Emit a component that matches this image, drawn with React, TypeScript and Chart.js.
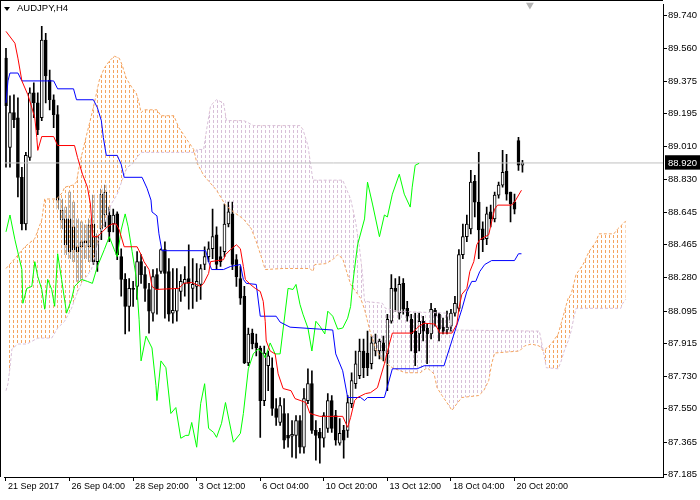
import React, { useEffect, useRef } from 'react';
import { Chart, registerables } from 'chart.js';

Chart.register(...registerables);

// ---- Candles (bar index 0 = 21 Sep 2017, H4) ----
const opens = [
  89.504, 89.006, 89.200, 89.172, 88.840, 88.580, 88.951, 89.311, 89.255, 89.172,
  89.604, 89.382, 89.272, 89.189, 88.603, 88.608, 88.608, 88.564, 88.453, 88.453,
  88.486, 88.453, 88.580, 88.370, 88.553, 88.630, 88.630, 88.580, 88.636, 88.398,
  88.271, 88.121, 88.221, 88.232, 88.370, 88.298, 88.215, 88.083, 88.298, 88.315,
  88.437, 88.315, 88.083, 88.094, 88.204, 88.249, 88.276, 88.221, 88.232, 88.243,
  88.354, 88.398, 88.442, 88.520, 88.398, 88.426, 88.580, 88.636, 88.381, 88.276,
  88.177, 87.806, 87.972, 87.917, 87.889, 87.596, 87.790, 87.779, 87.552, 87.474,
  87.524, 87.402, 87.397, 87.402, 87.485, 87.336, 87.596, 87.690, 87.430, 87.419,
  87.386, 87.441, 87.596, 87.513, 87.358, 87.430, 87.430, 87.579, 87.690, 87.734,
  87.872, 87.861, 87.801, 87.872, 87.872, 87.917, 87.856, 88.038, 88.221, 88.083,
  88.249, 88.110, 88.049, 87.983, 87.967, 88.038, 88.000, 87.967, 88.099, 88.077,
  88.005, 87.989, 88.011, 88.083, 88.110, 88.409, 88.509, 88.553, 88.818, 88.702,
  88.553, 88.498, 88.647, 88.608, 88.741, 88.796, 88.874, 88.757, 88.702, 89.045,
  88.907,
];
const highs = [
  89.559, 89.294, 89.300, 89.283, 88.896, 88.979, 89.338, 89.366, 89.311, 89.681,
  89.642, 89.438, 89.300, 89.239, 88.719, 88.674, 88.757, 88.702, 88.608, 88.592,
  88.575, 88.608, 88.741, 88.525, 88.774, 88.796, 88.674, 88.663, 88.647, 88.442,
  88.304, 88.276, 88.260, 88.426, 88.409, 88.343, 88.249, 88.326, 88.332, 88.442,
  88.481, 88.387, 88.332, 88.332, 88.298, 88.343, 88.464, 88.387, 88.359, 88.354,
  88.453, 88.481, 88.663, 88.564, 88.453, 88.691, 88.702, 88.702, 88.409, 88.343,
  88.232, 88.000, 87.994, 87.967, 87.900, 87.900, 87.872, 87.834, 87.607, 87.613,
  87.607, 87.524, 87.485, 87.513, 87.513, 87.663, 87.773, 87.762, 87.485, 87.441,
  87.529, 87.635, 87.624, 87.541, 87.496, 87.458, 87.624, 87.751, 87.872, 87.939,
  87.939, 87.983, 87.955, 87.967, 87.939, 87.955, 88.077, 88.298, 88.276, 88.287,
  88.276, 88.149, 88.077, 88.083, 88.083, 88.066, 88.022, 88.138, 88.110, 88.083,
  88.055, 88.094, 88.105, 88.177, 88.437, 88.580, 88.630, 88.879, 88.851, 88.979,
  88.592, 88.674, 88.685, 88.757, 88.813, 88.990, 88.968, 88.757, 88.746, 89.062,
  88.934,
];
const lows = [
  88.896, 88.896, 89.117, 88.730, 88.547, 88.547, 88.934, 89.172, 89.078, 89.156,
  89.255, 89.216, 89.117, 88.663, 88.553, 88.409, 88.387, 88.370, 88.260, 88.271,
  88.387, 88.370, 88.354, 88.315, 88.492, 88.564, 88.481, 88.536, 88.381, 88.177,
  87.967, 87.983, 88.121, 88.160, 88.249, 88.149, 87.972, 88.038, 88.077, 88.304,
  88.055, 88.038, 88.027, 88.038, 88.149, 88.177, 88.105, 88.110, 88.149, 88.160,
  88.326, 88.370, 88.387, 88.326, 88.343, 88.398, 88.564, 88.326, 88.232, 88.132,
  87.801, 87.790, 87.884, 87.845, 87.391, 87.568, 87.651, 87.513, 87.458, 87.458,
  87.330, 87.336, 87.281, 87.275, 87.303, 87.303, 87.579, 87.413, 87.264, 87.247,
  87.336, 87.419, 87.419, 87.347, 87.347, 87.275, 87.391, 87.557, 87.663, 87.718,
  87.723, 87.734, 87.773, 87.845, 87.828, 87.817, 87.651, 88.027, 88.094, 88.049,
  88.077, 88.038, 87.872, 87.790, 87.872, 87.928, 87.801, 87.939, 88.011, 87.928,
  87.967, 87.967, 87.983, 88.066, 88.094, 88.387, 88.481, 88.525, 88.619, 88.387,
  88.426, 88.464, 88.564, 88.592, 88.724, 88.785, 88.713, 88.592, 88.636, 88.879,
  88.868,
];
const closes = [
  89.239, 89.200, 89.161, 88.840, 88.580, 88.962, 89.311, 89.255, 89.106, 89.604,
  89.405, 89.272, 89.189, 88.713, 88.658, 88.464, 88.426, 88.437, 88.426, 88.481,
  88.475, 88.575, 88.370, 88.509, 88.746, 88.757, 88.536, 88.630, 88.409, 88.271,
  88.121, 88.221, 88.215, 88.370, 88.298, 88.221, 88.094, 88.287, 88.215, 88.437,
  88.304, 88.077, 88.099, 88.221, 88.260, 88.271, 88.249, 88.243, 88.260, 88.332,
  88.398, 88.442, 88.509, 88.354, 88.370, 88.580, 88.647, 88.354, 88.287, 88.166,
  87.806, 87.967, 87.911, 87.889, 87.596, 87.861, 87.845, 87.552, 87.502, 87.568,
  87.375, 87.386, 87.408, 87.485, 87.336, 87.607, 87.690, 87.430, 87.402, 87.386,
  87.513, 87.596, 87.441, 87.375, 87.413, 87.375, 87.585, 87.707, 87.801, 87.872,
  87.779, 87.779, 87.917, 87.917, 87.928, 87.872, 88.049, 88.221, 88.204, 88.243,
  88.105, 88.066, 87.967, 87.861, 88.038, 87.983, 87.967, 88.105, 88.066, 87.994,
  87.983, 88.005, 88.083, 88.138, 88.409, 88.509, 88.580, 88.813, 88.702, 88.547,
  88.492, 88.636, 88.608, 88.741, 88.796, 88.868, 88.746, 88.691, 88.663, 88.907,
  88.920,
];

// ---- Ichimoku lines, read as (bar index, price) breakpoints ----
const tenkanBar = [0, 2.25, 3, 4, 5.5, 6.5, 7.25, 7.75, 8, 9, 12, 13, 17.25, 18, 19.25, 20.5, 21.25, 21.5, 21.75, 23, 24.25, 25.5, 26.75, 27.75, 28.5, 29.75, 33, 34, 34.75, 36, 36.75, 37.75, 43.5, 44.75, 46.75, 49, 49.75, 51, 51.5, 54.75, 55.25, 56.5, 58, 59, 59.75, 60.25, 61.5, 62.75, 64, 64.75, 65.25, 65.5, 66.5, 67.75, 68.5, 69.75, 71.75, 72.75, 75.5, 76.5, 79, 84.75, 86, 86.75, 87.75, 88.5, 90.5, 91.75, 93.5, 95.25, 96.5, 97.25, 102.25, 104, 105.25, 108, 109.25, 112.25, 113.5, 114, 114.75, 116, 116.75, 117.75, 118.5, 119.25, 121.5, 122.25, 123, 123.75, 127.25, 128, 129.75];
const tenkanPrice = [89.653, 89.587, 89.504, 89.377, 89.300, 89.228, 89.172, 89.062, 88.990, 89.067, 89.067, 89.017, 89.017, 88.951, 88.857, 88.785, 88.691, 88.619, 88.509, 88.509, 88.536, 88.564, 88.580, 88.580, 88.547, 88.453, 88.453, 88.409, 88.370, 88.326, 88.232, 88.215, 88.221, 88.249, 88.254, 88.232, 88.249, 88.304, 88.370, 88.381, 88.409, 88.437, 88.464, 88.442, 88.343, 88.271, 88.243, 88.221, 88.204, 88.149, 88.038, 87.928, 87.872, 87.856, 87.745, 87.663, 87.651, 87.607, 87.585, 87.524, 87.508, 87.508, 87.447, 87.502, 87.596, 87.613, 87.635, 87.640, 87.668, 87.801, 87.911, 87.972, 87.972, 88.011, 88.027, 88.022, 87.972, 87.972, 88.022, 88.110, 88.188, 88.221, 88.315, 88.370, 88.464, 88.492, 88.520, 88.592, 88.663, 88.685, 88.685, 88.702, 88.768];

const kijunBar = [0, 0.5, 1, 3, 4, 12, 13, 17, 17.75, 22, 23, 24, 24.5, 25.25, 28, 29, 29.75, 34.25, 35.5, 36.5, 36.75, 38, 38.5, 39.25, 50.25, 51, 51.75, 54.75, 56.5, 59, 59.75, 60.5, 63, 64, 68, 69, 71.5, 79, 82.25, 83, 84.75, 86, 89.25, 90.25, 91, 95.25, 97.25, 103.5, 105.25, 110.25, 113, 114.75, 116, 117.25, 118.25, 119.25, 120.5, 122.25, 128, 129, 129.75];
const kijunPrice = [89.255, 89.377, 89.421, 89.421, 89.377, 89.377, 89.333, 89.333, 89.272, 89.272, 89.228, 89.156, 89.062, 88.962, 88.962, 88.912, 88.840, 88.840, 88.779, 88.713, 88.647, 88.625, 88.525, 88.431, 88.431, 88.370, 88.326, 88.326, 88.343, 88.354, 88.271, 88.249, 88.243, 88.066, 88.066, 88.033, 88.005, 87.994, 87.989, 87.856, 87.762, 87.613, 87.613, 87.596, 87.613, 87.613, 87.773, 87.773, 87.790, 87.790, 87.983, 88.105, 88.204, 88.260, 88.260, 88.315, 88.354, 88.376, 88.376, 88.414, 88.414];

const chikouBar = [0, 1, 2.25, 4, 4.25, 5.25, 6.5, 7.25, 8, 9, 9.75, 10.5, 11.5, 12.25, 13, 14, 15.25, 16.5, 17.25, 19, 20.5, 21.75, 23, 24.75, 26, 27.25, 28, 29, 30, 30.75, 31.75, 32.75, 33.5, 34, 35.25, 36.75, 37.75, 38, 39, 40.25, 41.5, 42.75, 44, 45.25, 46, 46.75, 48, 49, 50, 51, 52.25, 53, 54.25, 55.25, 57.25, 59, 59.75, 61, 62.25, 63.5, 64.75, 65.25, 66.5, 67.75, 69, 70, 71, 72.25, 73, 74, 74.75, 76, 77, 78, 79, 80.25, 81, 82.25, 83.5, 84.75, 86, 86.75, 87.25, 88.5, 90.25, 91, 92.25, 94, 95.25, 96, 97.25, 99, 100.25, 101.75, 102.25, 103, 104];
const chikouPrice = [88.536, 88.630, 88.492, 88.326, 88.138, 88.221, 88.232, 88.370, 88.287, 88.215, 88.105, 88.271, 88.215, 88.121, 88.414, 88.271, 88.083, 88.160, 88.232, 88.271, 88.260, 88.249, 88.343, 88.437, 88.509, 88.437, 88.398, 88.547, 88.636, 88.564, 88.426, 88.287, 88.049, 87.817, 87.955, 87.889, 87.679, 87.596, 87.817, 87.779, 87.524, 87.557, 87.386, 87.402, 87.402, 87.474, 87.336, 87.579, 87.690, 87.441, 87.419, 87.391, 87.469, 87.585, 87.364, 87.413, 87.524, 87.773, 87.856, 87.884, 87.856, 87.834, 87.917, 87.856, 87.856, 88.038, 88.221, 88.215, 88.243, 88.132, 88.077, 88.000, 87.872, 88.038, 88.011, 87.967, 88.094, 88.066, 87.994, 88.000, 88.055, 88.121, 88.243, 88.464, 88.608, 88.813, 88.691, 88.509, 88.630, 88.619, 88.746, 88.857, 88.746, 88.674, 88.785, 88.907, 88.918];

const spanABar = [0, 2.25, 4.75, 7.25, 9, 9.75, 12.75, 14.25, 14.75, 16.75, 17.75, 18.5, 20.25, 21.5, 22.25, 23.5, 24.75, 26, 27.25, 28.5, 29.25, 30.25, 31.75, 32.75, 33.5, 34, 34.75, 38, 39, 42.25, 43.5, 45.5, 47.25, 48, 49.75, 53, 55.25, 57.25, 59.75, 61.75, 63, 64.25, 65.25, 69.75, 76.5, 77.25, 77.75, 80.5, 82.25, 83.5, 84.75, 85.5, 86.75, 89.25, 90.25, 91, 91.75, 93, 94.75, 97.25, 100.5, 104.25, 106, 107.75, 108.5, 109.75, 111.5, 112.25, 113.5, 114.75, 119, 120.25, 121.5, 122.25, 123, 129.25, 130.5, 132.25, 134.25, 135.25, 137.25, 139, 139.75, 141.5, 142.25, 143.5, 145.25, 146.75, 148.5, 149.25, 153, 154, 155.25, 156];
const spanAPrice = [88.332, 88.387, 88.453, 88.498, 88.603, 88.719, 88.719, 88.757, 88.785, 88.796, 88.813, 88.912, 89.073, 89.183, 89.255, 89.382, 89.449, 89.487, 89.515, 89.504, 89.465, 89.393, 89.338, 89.311, 89.255, 89.200, 89.216, 89.216, 89.183, 89.183, 89.117, 89.051, 88.995, 88.923, 88.851, 88.768, 88.685, 88.647, 88.608, 88.553, 88.481, 88.398, 88.326, 88.332, 88.332, 88.315, 88.354, 88.359, 88.381, 88.409, 88.387, 88.332, 88.243, 88.166, 88.105, 88.038, 87.972, 87.889, 87.817, 87.779, 87.751, 87.751, 87.779, 87.745, 87.668, 87.624, 87.568, 87.541, 87.579, 87.613, 87.624, 87.651, 87.707, 87.801, 87.861, 87.872, 87.900, 87.911, 87.900, 87.872, 87.911, 87.967, 88.027, 88.166, 88.188, 88.298, 88.354, 88.426, 88.481, 88.525, 88.525, 88.553, 88.580, 88.597];

const spanBBar = [0, 0.5, 1, 1.5, 3, 5.25, 8, 11.5, 13, 14.75, 16.5, 17.75, 19, 21.5, 22.75, 24, 25.5, 26.5, 28, 29.25, 30.5, 31.75, 33, 34, 47.75, 48, 49.75, 50.5, 51.5, 53, 54.75, 55.5, 59.75, 60.5, 62.25, 74, 74.75, 76, 77.25, 84.75, 86.75, 88, 89, 89.75, 90.25, 94.75, 95.5, 98.5, 111, 112.25, 134.25, 135.25, 136, 139, 139.75, 140.5, 141.5, 142.25, 143, 143.5, 146, 154.75, 155.25, 156];
const spanBPrice = [87.651, 87.690, 87.779, 87.884, 87.911, 87.911, 87.944, 87.944, 88.000, 88.038, 88.110, 88.188, 88.249, 88.326, 88.437, 88.547, 88.619, 88.691, 88.746, 88.824, 88.896, 88.912, 88.951, 88.979, 88.979, 88.995, 88.995, 89.106, 89.239, 89.272, 89.255, 89.156, 89.156, 89.150, 89.128, 89.128, 89.106, 89.017, 88.824, 88.824, 88.719, 88.592, 88.442, 88.298, 88.149, 88.138, 88.110, 88.094, 88.083, 87.989, 87.983, 87.872, 87.779, 87.773, 87.817, 87.872, 87.928, 87.983, 88.066, 88.110, 88.110, 88.110, 88.138, 88.160];

// ---- Axes / annotations ----
const bidPrice = 88.92;
const yTickValues = [87.185, 87.365, 87.55, 87.73, 87.915, 88.095, 88.28, 88.465, 88.645, 88.83, 88.92, 89.01, 89.195, 89.375, 89.56, 89.74];
const xTickBars = [0, 16, 32, 48, 64, 80, 96, 112, 128];
const xTickLabels = ['21 Sep 2017', '26 Sep 04:00', '28 Sep 20:00', '3 Oct 12:00', '6 Oct 04:00', '10 Oct 20:00', '13 Oct 12:00', '18 Oct 04:00', '20 Oct 20:00'];
const shiftMarkerBar = 131.875;
const shiftMarkerPrice = 89.8;

const FONT = 'Liberation Sans';

function makePattern(color: string): CanvasPattern | string {
  const c = document.createElement('canvas');
  c.width = 4;
  c.height = 5;
  const g = c.getContext('2d');
  if (!g) return color;
  g.fillStyle = '#ffffff';
  g.fillRect(1, 0, 1, 5);
  g.fillStyle = color;
  g.fillRect(1, 0, 1, 3);
  return g.createPattern(c, 'repeat') || color;
}

const isBid = (v: any) => typeof v === 'number' && Math.abs(v - bidPrice) < 1e-6;

export default function App() {
  const ref = useRef<HTMLCanvasElement>(null);

  useEffect(() => {
    const canvas = ref.current;
    if (!canvas) return;
    Chart.defaults.font.family = FONT;
    const patA = makePattern('#F4A460');
    const patB = makePattern('#D8BFD8');
    const idx = closes.map((_, i) => i);
    const zip = (xs: number[], ys: number[]) => xs.map((x, i) => ({ x, y: ys[i] }));

    const chart = new Chart(canvas, {
      type: 'bar',
      data: {
        datasets: [
          {
            type: 'bar',
            label: 'Shadow',
            data: idx.map((i) => ({ x: i, y: [lows[i], highs[i]] })) as any,
            backgroundColor: '#000000',
            borderWidth: 0,
            barThickness: 1,
            maxBarThickness: 1,
            grouped: false,
            order: 10,
          } as any,
          {
            type: 'bar',
            label: 'Body',
            data: idx.map((i) => ({ x: i, y: [opens[i], closes[i]] })) as any,
            backgroundColor: (ctx: any) =>
              closes[ctx.dataIndex] >= opens[ctx.dataIndex] ? '#ffffff' : '#000000',
            borderColor: '#000000',
            borderWidth: 1,
            borderSkipped: false,
            barThickness: 3,
            maxBarThickness: 3,
            minBarLength: 1,
            grouped: false,
            order: 9,
          } as any,
          {
            type: 'line',
            label: 'Senkou Span A',
            data: zip(spanABar, spanAPrice),
            borderColor: '#F4A460',
            borderWidth: 1,
            borderDash: [3, 2],
            pointRadius: 0,
            tension: 0,
            fill: { target: 3, above: patA, below: patB },
            order: 6,
          } as any,
          {
            type: 'line',
            label: 'Senkou Span B',
            data: zip(spanBBar, spanBPrice),
            borderColor: '#D8BFD8',
            borderWidth: 1,
            borderDash: [3, 2],
            pointRadius: 0,
            tension: 0,
            fill: false,
            order: 5,
          } as any,
          {
            type: 'line',
            label: 'Bid',
            data: [{ x: -1, y: bidPrice }, { x: 170, y: bidPrice }],
            borderColor: '#C0C0C0',
            borderWidth: 1,
            pointRadius: 0,
            fill: false,
            order: 3,
          } as any,
          {
            type: 'line',
            label: 'Tenkan-sen',
            data: zip(tenkanBar, tenkanPrice),
            borderColor: '#FF0000',
            borderWidth: 1,
            pointRadius: 0,
            tension: 0,
            fill: false,
            order: 2,
          } as any,
          {
            type: 'line',
            label: 'Kijun-sen',
            data: zip(kijunBar, kijunPrice),
            borderColor: '#0000FF',
            borderWidth: 1,
            pointRadius: 0,
            tension: 0,
            fill: false,
            order: 2,
          } as any,
          {
            type: 'line',
            label: 'Chikou Span',
            data: zip(chikouBar, chikouPrice),
            borderColor: '#00FF00',
            borderWidth: 1,
            pointRadius: 0,
            tension: 0,
            fill: false,
            order: 2,
          } as any,
          {
            type: 'line',
            label: 'Shift',
            data: [{ x: shiftMarkerBar, y: shiftMarkerPrice }],
            showLine: false,
            pointStyle: 'triangle',
            pointRotation: 180,
            pointRadius: 4.5,
            pointBackgroundColor: '#B4B4B4',
            pointBorderColor: '#B4B4B4',
            pointBorderWidth: 0,
            clip: false,
            order: 1,
          } as any,
        ],
      },
      options: {
        responsive: false,
        maintainAspectRatio: false,
        animation: false,
        events: [],
        layout: { padding: { top: 1, left: 0, right: 0, bottom: 0 } },
        plugins: {
          legend: { display: false },
          tooltip: { enabled: false },
          filler: { drawTime: 'beforeDatasetDraw' },
        } as any,
        scales: {
          x: {
            type: 'linear',
            min: -0.375,
            max: 165.375,
            offset: false,
            afterBuildTicks: (s: any) => {
              s.ticks = xTickBars.map((v) => ({ value: v }));
            },
            afterFit: (s: any) => {
              s.height = 23;
              s.paddingLeft = 0;
              s.paddingRight = 0;
            },
            grid: {
              display: true,
              drawOnChartArea: false,
              drawTicks: true,
              tickLength: 4,
              color: '#000000',
              offset: false,
            },
            border: { display: true, color: '#000000', width: 1 },
            ticks: {
              autoSkip: false,
              maxRotation: 0,
              minRotation: 0,
              align: 'start',
              labelOffset: 2,
              padding: 0,
              color: '#000000',
              font: { family: FONT, size: 9 },
              callback: (_v: any, i: number) => xTickLabels[i],
            },
          } as any,
          y: {
            type: 'linear',
            position: 'right',
            min: 87.1701,
            max: 89.8028,
            afterBuildTicks: (s: any) => {
              s.ticks = yTickValues.map((v) => ({ value: v }));
            },
            afterFit: (s: any) => {
              s.width = 37;
              s.paddingTop = 0;
              s.paddingBottom = 0;
            },
            grid: {
              display: true,
              drawOnChartArea: false,
              drawTicks: true,
              tickLength: 4,
              color: (ctx: any) => (ctx.tick && isBid(ctx.tick.value) ? 'rgba(0,0,0,0)' : '#000000'),
            },
            border: { display: true, color: '#000000', width: 1 },
            ticks: {
              autoSkip: false,
              padding: 1,
              font: { family: FONT, size: 9.5 },
              color: (ctx: any) => (ctx.tick && isBid(ctx.tick.value) ? '#FFFFFF' : '#000000'),
              showLabelBackdrop: (ctx: any) => !!(ctx.tick && isBid(ctx.tick.value)),
              backdropColor: '#000000',
              backdropPadding: { top: 2, bottom: 1, left: 3, right: 6 },
              callback: (v: any) => Number(v).toFixed(3),
            },
          } as any,
        },
      },
    });

    return () => {
      chart.destroy();
    };
  }, []);

  return (
    <div
      style={{
        position: 'absolute',
        left: 0,
        top: 0,
        width: 700,
        height: 500,
        background: '#ffffff',
        overflow: 'hidden',
      }}
    >
      <canvas ref={ref} width={700} height={500} style={{ position: 'absolute', left: 0, top: 0 }} />
      <div style={{ position: 'absolute', left: 0, top: 0, width: 663, height: 1, background: '#000' }} />
      <div style={{ position: 'absolute', left: 0, top: 0, width: 1, height: 477, background: '#000' }} />
      <div
        style={{
          position: 'absolute',
          left: 4,
          top: 7,
          width: 0,
          height: 0,
          borderLeft: '3px solid transparent',
          borderRight: '3px solid transparent',
          borderTop: '4px solid #000',
        }}
      />
      <div
        style={{
          position: 'absolute',
          left: 17,
          top: 2,
          fontFamily: FONT,
          fontSize: 9.5,
          lineHeight: '12px',
          color: '#000',
          whiteSpace: 'nowrap',
        }}
      >
        AUDJPY,H4
      </div>
    </div>
  );
}
